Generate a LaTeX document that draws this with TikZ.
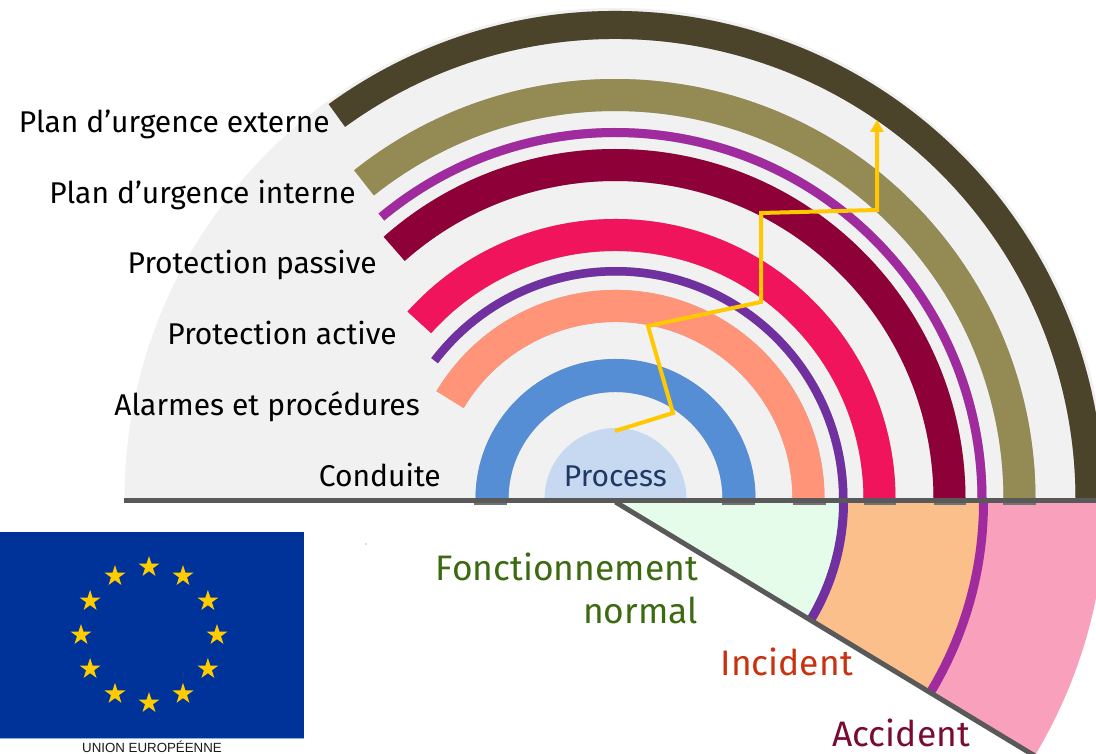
\documentclass[tikz,border=0pt]{standalone}
\usepackage{fontspec}
\setmainfont{Fira Sans}
\newfontfamily\flagfont{Liberation Sans}
\usetikzlibrary{arrows.meta,shapes.geometric,calc}
\definecolor{fanbg}{HTML}{F1F1F1}
\definecolor{cdark}{HTML}{4B442B}
\definecolor{colive}{HTML}{948B54}
\definecolor{cpurple}{HTML}{A02B9E}
\definecolor{cmaroon}{HTML}{8E0038}
\definecolor{cred}{HTML}{EF145B}
\definecolor{cviolet}{HTML}{7030A0}
\definecolor{csalmon}{HTML}{FF9479}
\definecolor{cblue}{HTML}{558ED5}
\definecolor{cprocess}{HTML}{C6D9F1}
\definecolor{cgreen}{HTML}{E6FCEB}
\definecolor{corange}{HTML}{FBBF8C}
\definecolor{cpink}{HTML}{F8A0BC}
\definecolor{cline}{HTML}{595959}
\definecolor{cyellow}{HTML}{FFC800}
\definecolor{ceu}{HTML}{003399}
\definecolor{cstar}{HTML}{FFCC00}
\newcommand{\band}[4]{% colour, inner r, outer r, left angle
  \pgfmathsetmacro{\bandmid}{(#2+#3)/2}\pgfmathsetmacro{\bandw}{#3-#2}
  \draw[line width=\bandw pt,black,opacity=.28,shift={(1.2,-1.5)}] ($(ctr)+(#4:\bandmid pt)$) arc[start angle=#4,end angle=0,radius=\bandmid pt];
  \draw[line width=\bandw pt,#1] ($(ctr)+(#4:\bandmid pt)$) arc[start angle=#4,end angle=0,radius=\bandmid pt];
}
\tikzset{
  lab/.style={font=\fontsize{30}{33}\selectfont,text=black,inner sep=0,anchor=base east},
  big/.style={font=\fontsize{35.4}{38}\selectfont,inner sep=0,anchor=base east},
  eustar/.style={star,star points=5,star point ratio=2.618,minimum size=22pt,inner sep=0,fill=cstar,draw=none},
  divider/.style={draw=cline,line width=5pt},
  route/.style={draw=cyellow,line width=4pt,line join=miter}
}
\begin{document}
\begin{tikzpicture}[x=1pt,y=1pt]
\useasboundingbox (0,0) rectangle (1096,754);
\clip (0,0) rectangle (1096,754);
\coordinate (ctr) at (615.5,255);
\coordinate (low) at (615.5,252);
% fan
\fill[fanbg] (ctr) ++(180:491pt) arc[start angle=180,end angle=0,radius=491pt] -- cycle;
% lower sectors
\fill[cpink] (low) -- ++(0:490pt) arc[start angle=0,end angle=-31.2,radius=490pt] -- cycle;
\fill[corange] (low) -- ++(0:368pt) arc[start angle=0,end angle=-31.2,radius=368pt] -- cycle;
\fill[cgreen] (low) -- ++(0:228pt) arc[start angle=0,end angle=-31.2,radius=228pt] -- cycle;
\draw[line width=9pt,cviolet] ($(low)+(0:228pt)$) arc[start angle=0,end angle=-31.2,radius=228pt];
\draw[line width=9pt,cpurple] ($(low)+(0:368pt)$) arc[start angle=0,end angle=-31.2,radius=368pt];
% process
\fill[cprocess] (ctr) ++(180:71pt) arc[start angle=180,end angle=0,radius=71pt] -- cycle;
% bands
\band{cblue}{107}{140}{180}
\band{csalmon}{177}{209}{149}
\band{cviolet}{223.5}{232}{142.6}
\band{cred}{248}{280}{138}
\band{cmaroon}{318}{350}{131.5}
\band{cpurple}{362}{371}{129.7}
\band{colive}{388}{420}{128.5}
\band{cdark}{460}{488}{126}
% small dark ticks under the bands
\foreach \xa/\xb in {474/507,722/755,793/826,864/896,934/966,1003/1036}{
  \fill[cline!85] (\xa,249) rectangle (\xb,252);
}
% dividers
\coordinate (bl) at (124,253);
\coordinate (br) at (1096,253);
\coordinate (sl) at ($(low)+(-31.2:500pt)$);
\draw[divider] (bl) -- (br);
\draw[divider] (low) -- (sl);
% labels
\node[lab] (l1) at (330,621) {Plan d’urgence externe};
\node[lab] (l2) at (356,550) {Plan d’urgence interne};
\node[lab] (l3) at (377,480) {Protection passive};
\node[lab] (l4) at (397,409) {Protection active};
\node[lab] (l5) at (420,338) {Alarmes et procédures};
\node[lab] (l6) at (441,267) {Conduite};
\node[lab,text={rgb,255:red,31;green,56;blue,100}] (l7) at (667,267) {Process};
\node[big,text={rgb,255:red,59;green,106;blue,16}] (n1) at (698,173) {Fonctionnement};
\node[big,text={rgb,255:red,59;green,106;blue,16}] (n2) at (698,130) {normal};
\node[big,text={rgb,255:red,200;green,50;blue,15}] (n3) at (853,78) {Incident};
\node[big,text={rgb,255:red,123;green,10;blue,51}] (n4) at (970,7) {Accident};
% route
\coordinate (r0) at (615,323);
\coordinate (r1) at (673,341);
\coordinate (r2) at (648,428);
\coordinate (r3) at (761,452);
\coordinate (r4) at (761,541);
\coordinate (r5) at (877,544);
\coordinate (r6) at (877,634);
\draw[route,-{Triangle[length=12pt,width=13pt]}] (r0) -- (r1) -- (r2) -- (r3) -- (r4) -- (r5) -- (r6);
% flag
\fill[ceu] (0,16) rectangle (304,222);
\fill[cblue!70] (0,15) rectangle (304,16);
\foreach \a in {0,30,...,330}{
  \node[eustar] (s\a) at ($(149,119)+(\a:68pt)$) {};
}
\node[font=\flagfont\fontsize{13.3}{15}\selectfont,text=black!90,inner sep=0] (eu) at (152,7) {UNION EUROPÉENNE};
\fill[black!60] (366,210) circle (.6pt);
\end{tikzpicture}
\end{document}
